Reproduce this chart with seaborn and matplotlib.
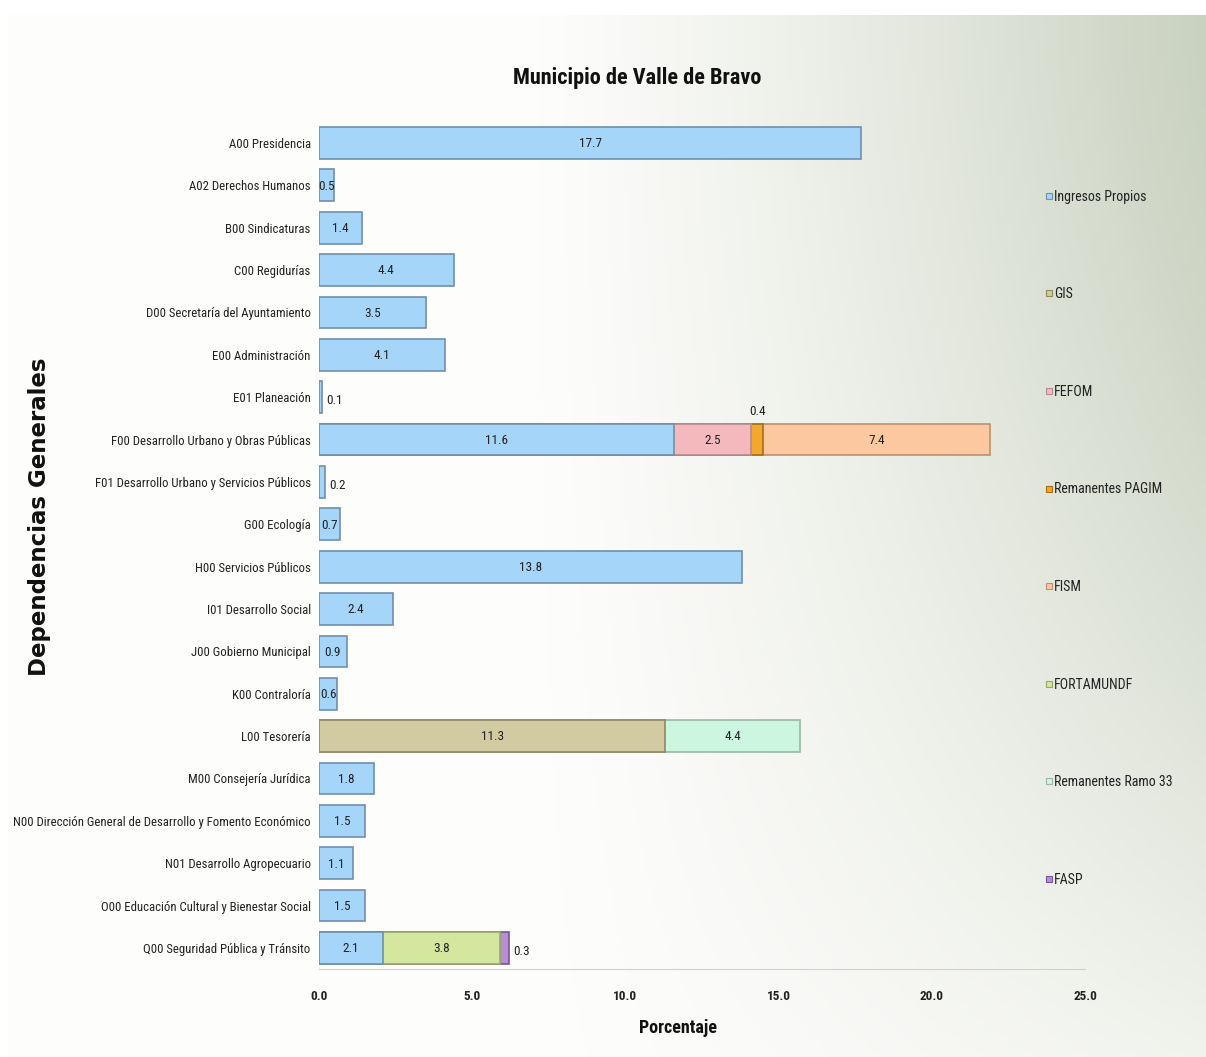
import numpy as np
import pandas as pd
import matplotlib
matplotlib.use("Agg")
import matplotlib.pyplot as plt
from matplotlib.lines import Line2D
from matplotlib import font_manager as fm
import seaborn as sns

categories = [
    "A00 Presidencia", "A02 Derechos Humanos", "B00 Sindicaturas", "C00 Regidurías",
    "D00 Secretaría del Ayuntamiento", "E00 Administración", "E01 Planeación",
    "F00 Desarrollo Urbano y Obras Públicas", "F01 Desarrollo Urbano y Servicios Públicos",
    "G00 Ecología", "H00 Servicios Públicos", "I01 Desarrollo Social", "J00 Gobierno Municipal",
    "K00 Contraloría", "L00 Tesorería", "M00 Consejería Jurídica",
    "N00 Dirección General de Desarrollo y Fomento Económico", "N01 Desarrollo Agropecuario",
    "O00 Educación Cultural y Bienestar Social", "Q00 Seguridad Pública y Tránsito",
]

ingresos_propios = [17.7, 0.5, 1.4, 4.4, 3.5, 4.1, 0.1, 11.6, 0.2, 0.7, 13.8, 2.4, 0.9, 0.6, 0, 1.8, 1.5, 1.1, 1.5, 2.1]
gis =              [0, 0, 0, 0, 0, 0, 0, 0, 0, 0, 0, 0, 0, 0, 11.3, 0, 0, 0, 0, 0]
fefom =            [0, 0, 0, 0, 0, 0, 0, 2.5, 0, 0, 0, 0, 0, 0, 0, 0, 0, 0, 0, 0]
remanentes_pagim = [0, 0, 0, 0, 0, 0, 0, 0.4, 0, 0, 0, 0, 0, 0, 0, 0, 0, 0, 0, 0]
fism =             [0, 0, 0, 0, 0, 0, 0, 7.4, 0, 0, 0, 0, 0, 0, 0, 0, 0, 0, 0, 0]
fortamundf =       [0, 0, 0, 0, 0, 0, 0, 0, 0, 0, 0, 0, 0, 0, 0, 0, 0, 0, 0, 3.8]
remanentes_ramo33 = [0, 0, 0, 0, 0, 0, 0, 0, 0, 0, 0, 0, 0, 0, 4.4, 0, 0, 0, 0, 0]
fasp =             [0, 0, 0, 0, 0, 0, 0, 0, 0, 0, 0, 0, 0, 0, 0, 0, 0, 0, 0, 0.3]

series_names = ["Ingresos Propios", "GIS", "FEFOM", "Remanentes PAGIM", "FISM",
                "FORTAMUNDF", "Remanentes Ramo 33", "FASP"]
series_values = [ingresos_propios, gis, fefom, remanentes_pagim, fism,
                 fortamundf, remanentes_ramo33, fasp]
colors = ["#a6d5fa", "#d2caa0", "#f3b9bd", "#f2a72e", "#fbc8a0",
          "#d4e79f", "#cdf6de", "#b88ed2"]
edge_colors = ["#6f90ae", "#8f8866", "#b88a8e", "#a87010", "#c0906a",
               "#98a866", "#9ab8a4", "#7a5494"]
x_ticks = [0, 5, 10, 15, 20, 25]

sns.set_theme(style="white")
available = {f.name for f in fm.fontManager.ttflist}
candidates = ["Roboto Condensed", "Liberation Sans Narrow", "Roboto", "DejaVu Sans"]
narrow = [c for c in candidates if c in available] or ["DejaVu Sans"]
plt.rcParams["font.family"] = narrow
plt.rcParams["font.stretch"] = "condensed"

fig = plt.figure(figsize=(12.06, 10.57), dpi=100)

# background gradient panel
bg = fig.add_axes([0.007, 0.0, 0.993, 0.986], zorder=-10)
h, w = 200, 300
xx = np.linspace(0, 1, w)[None, :]
yy = np.linspace(0, 1, h)[:, None]  # 0 at top
dark = np.clip((xx - 0.42) / 0.58, 0, 1) ** 1.3 * (1 - 0.75 * yy ** 1.5)
white = np.array([0.995, 0.995, 0.99])
green = np.array([0.79, 0.82, 0.75])
img = white[None, None, :] * (1 - dark[..., None]) + green[None, None, :] * dark[..., None]
bg.imshow(img, aspect="auto", extent=[0, 1, 1, 0])
bg.set_axis_off()

ax = fig.add_axes([0.2645, 0.0831, 0.6352, 0.8017])
ax.patch.set_alpha(0)

df = pd.DataFrame({"categoria": categories})
for name, vals in zip(series_names, series_values):
    df[name] = vals
cum = df[series_names].cumsum(axis=1)

# draw from last series to first so each visible segment equals its value
for i in range(len(series_names) - 1, -1, -1):
    name = series_names[i]
    mask = df[name] > 0
    sub = pd.DataFrame({"categoria": df["categoria"][mask], "total": cum[name][mask]})
    sns.barplot(data=sub, x="total", y="categoria", order=categories, orient="h",
                color=colors[i], edgecolor=edge_colors[i], linewidth=1.2,
                width=0.75, saturation=1, ax=ax)

lab_fs = 9.5
for r, cat in enumerate(categories):
    left = 0.0
    names_present = [n for n in series_names if df.loc[r, n] > 0]
    for k, name in enumerate(names_present):
        v = df.loc[r, name]
        last = k == len(names_present) - 1
        if v >= 0.45:
            ax.text(left + v / 2, r + 0.02, f"{v:.1f}", ha="center", va="center",
                    fontsize=lab_fs, color="#222222")
        elif last:
            ax.text(left + v + 0.15, r + 0.08, f"{v:.1f}", ha="left", va="center",
                    fontsize=lab_fs, color="#222222")
        else:
            ax.text(left + v / 2, r - 0.5, f"{v:.1f}", ha="center", va="bottom",
                    fontsize=lab_fs, color="#222222")
        left += v

ax.set_xlim(0, 25)
ax.set_ylim(len(categories) - 0.5, -0.5)
ax.set_xticks(x_ticks)
ax.set_xticklabels([f"{t:.1f}" for t in x_ticks], fontsize=9.5, fontweight="bold", color="#222222")
ax.tick_params(axis="x", length=3, color="#c8c8c8", pad=12)
ax.tick_params(axis="y", length=0, pad=6, labelsize=9.2, labelcolor="#222222")
for s in ["top", "right", "left"]:
    ax.spines[s].set_visible(False)
ax.spines["bottom"].set_color("#d0d0d0")
ax.spines["bottom"].set_linewidth(0.8)

ax.set_xlabel("Porcentaje", fontsize=13, fontweight="bold", color="#111111")
ax.xaxis.set_label_coords((678 - 319) / 766, -(1028 - 969) / 847)
ax.xaxis.label.set_va("center")
ax.set_ylabel("")
fig.text(40 / 1206, 1 - 517 / 1057, "Dependencias Generales", rotation=90, ha="center",
         va="center", fontsize=16.5, fontweight="bold", family=["DejaVu Sans"],
         fontstretch="normal", color="#111111")
fig.text(637 / 1206, 1 - 78 / 1057, "Municipio de Valle de Bravo", ha="center", va="center",
         fontsize=16, fontweight="bold", color="#111111")

handles = [Line2D([0], [0], marker="s", linestyle="none", markersize=5,
                  markerfacecolor=c, markeredgecolor=e, markeredgewidth=0.8)
           for c, e in zip(colors, edge_colors)]
leg = fig.legend(handles, series_names, loc="upper left",
                 bbox_to_anchor=(1040 / 1206, 1 - 184 / 1057), frameon=False,
                 fontsize=10, labelspacing=6.02, handlelength=0.45, handletextpad=0.15,
                 borderaxespad=0)
for t in leg.get_texts():
    t.set_color("#222222")

fig.savefig("out.png", dpi=100)
